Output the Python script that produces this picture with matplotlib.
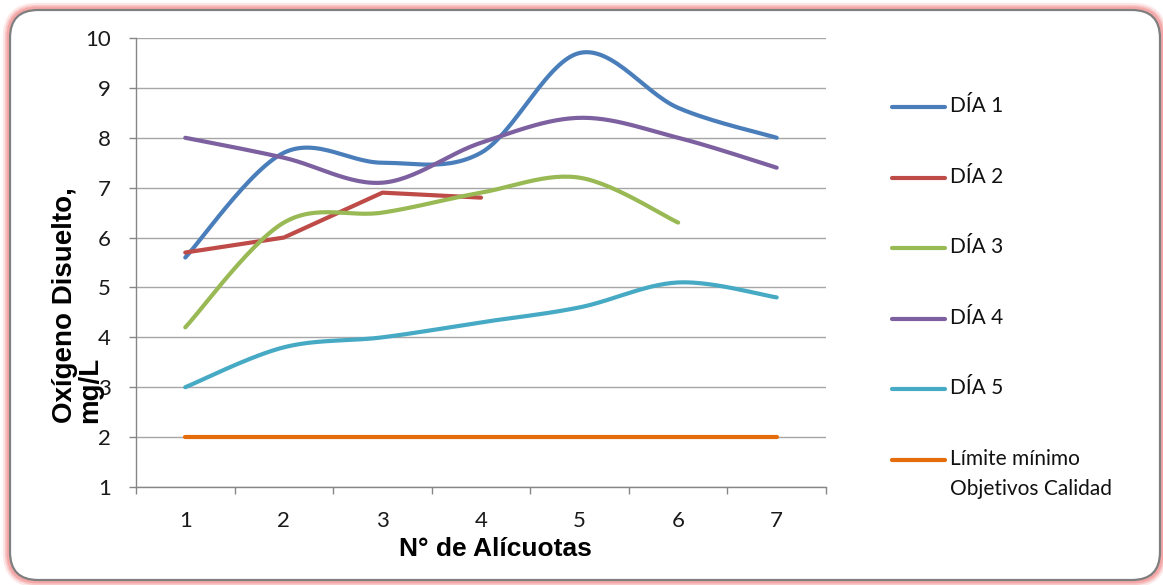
import numpy as np
import matplotlib
matplotlib.use("Agg")
import matplotlib.pyplot as plt
from matplotlib.patches import FancyBboxPatch
from matplotlib.lines import Line2D
from matplotlib.transforms import IdentityTransform

# Sampling points (aliquot number)
alicuotas = [1, 2, 3, 4, 5, 6, 7]

# Dissolved oxygen per day, mg/L
dia1 = [5.6, 7.7, 7.5, 7.7, 9.7, 8.6, 8.0]
dia2 = [5.7, 6.0, 6.9, 6.8]
dia3 = [4.2, 6.3, 6.5, 6.9, 7.2, 6.3]
dia4 = [8.0, 7.6, 7.1, 7.9, 8.4, 8.0, 7.4]
dia5 = [3.0, 3.8, 4.0, 4.3, 4.6, 5.1, 4.8]
limite = [2, 2, 2, 2, 2, 2, 2]

series_labels = ["DÍA 1", "DÍA 2", "DÍA 3", "DÍA 4", "DÍA 5",
                 "Límite mínimo\nObjetivos Calidad"]
y_ticks = [1, 2, 3, 4, 5, 6, 7, 8, 9, 10]

colors = ["#4A7EBB", "#BE4B48", "#98B954", "#7D60A0", "#46AAC5", "#E46C0A"]
smoothed = [True, False, True, True, True, False]

W, H = 1163, 585
plt.rcParams["font.family"] = ["Lato", "DejaVu Sans"]

fig = plt.figure(figsize=(W / 100, H / 100), dpi=100)
fig.patch.set_facecolor("white")


def bezier_smooth(xs, ys, n=30):
    """Cubic Bezier smoothing through every point (spreadsheet-style)."""
    P = np.column_stack([xs, ys]).astype(float)
    ext = np.vstack([P[0], P, P[-1]])
    out = [P[0]]
    t = np.linspace(0, 1, n)[1:, None]
    for i in range(len(P) - 1):
        p0, p1, p2, p3 = ext[i], ext[i + 1], ext[i + 2], ext[i + 3]
        c1 = p1 + (p2 - p0) / 6.0
        c2 = p2 - (p3 - p1) / 6.0
        seg = ((1 - t) ** 3) * p1 + 3 * ((1 - t) ** 2) * t * c1 \
            + 3 * (1 - t) * t ** 2 * c2 + t ** 3 * p2
        out.extend(seg)
    out = np.array(out)
    return out[:, 0], out[:, 1]


# Chart frame: pink glow and rounded grey border
px = IdentityTransform()
for lw, a in [(9, 0.18), (6, 0.30), (3.5, 0.45)]:
    glow = FancyBboxPatch((9, 4), 1152, 572,
                          boxstyle="round,pad=0,rounding_size=28",
                          transform=px, facecolor="none",
                          edgecolor="#F08080", linewidth=lw, alpha=a,
                          zorder=-10)
    fig.patches.append(glow)
frame = FancyBboxPatch((10, 5), 1150, 570,
                       boxstyle="round,pad=0,rounding_size=28",
                       transform=px, facecolor="white",
                       edgecolor="#7F7F7F", linewidth=1.6, zorder=-9)
fig.patches.append(frame)

# Plot area
ax_l, ax_r, ax_t, ax_b = 136, 826, 38, 487
ax = fig.add_axes([ax_l / W, (H - ax_b) / H, (ax_r - ax_l) / W, (ax_b - ax_t) / H])
ax.set_facecolor("none")

all_series = [dia1, dia2, dia3, dia4, dia5, limite]
for vals, col, sm in zip(all_series, colors, smoothed):
    xs = alicuotas[:len(vals)]
    if sm:
        sx, sy = bezier_smooth(xs, vals)
    else:
        sx, sy = xs, vals
    ax.plot(sx, sy, color=col, lw=3.0, solid_capstyle="round",
            solid_joinstyle="round", zorder=3)

ax.set_xlim(0.5, 7.5)
ax.set_ylim(1, 10)
ax.set_yticks(y_ticks)
ax.set_yticklabels([str(v) for v in y_ticks])
ax.grid(axis="y", color="#A6A6A6", lw=1.0)
ax.set_axisbelow(True)

ax.set_xticks(np.arange(0.5, 8.0, 1.0))
ax.set_xticklabels([])
ax.set_xticks(alicuotas, minor=True)
ax.set_xticklabels([str(a) for a in alicuotas], minor=True)
ax.tick_params(axis="x", which="major", length=5, color="#868686", width=1)
ax.tick_params(axis="x", which="minor", length=0, pad=17, labelsize=16,
               labelcolor="#1A1A1A")
ax.tick_params(axis="y", length=5, color="#868686", width=1, pad=13,
               labelsize=16, labelcolor="#1A1A1A")

for s in ["top", "right"]:
    ax.spines[s].set_visible(False)
for s in ["left", "bottom"]:
    ax.spines[s].set_color("#868686")
    ax.spines[s].set_linewidth(1.0)

# Axis titles
fig.text(495 / W, 1 - 549 / H, "N° de Alícuotas", ha="center", va="center",
         fontsize=19, fontweight="bold", family=["Liberation Sans"])
fig.text(78 / W, 1 - 423 / H, "Oxígeno Disuelto,\nmg/L", rotation=90,
         ha="center", va="bottom", multialignment="left", linespacing=0.95,
         fontsize=20, fontweight="bold", family=["Liberation Sans"])

# Legend
leg_y = [107, 178, 248, 319, 389, 460]
for lab, col, yy in zip(series_labels, colors, leg_y):
    fig.add_artist(Line2D([892 / W, 945 / W], [1 - yy / H, 1 - yy / H],
                          color=col, lw=3.0, solid_capstyle="round"))
    fig.text(950 / W, 1 - (yy - 11) / H, lab, ha="left", va="top",
             fontsize=15, color="#111111", linespacing=1.6)

fig.savefig("out.png", dpi=100, facecolor="white")
